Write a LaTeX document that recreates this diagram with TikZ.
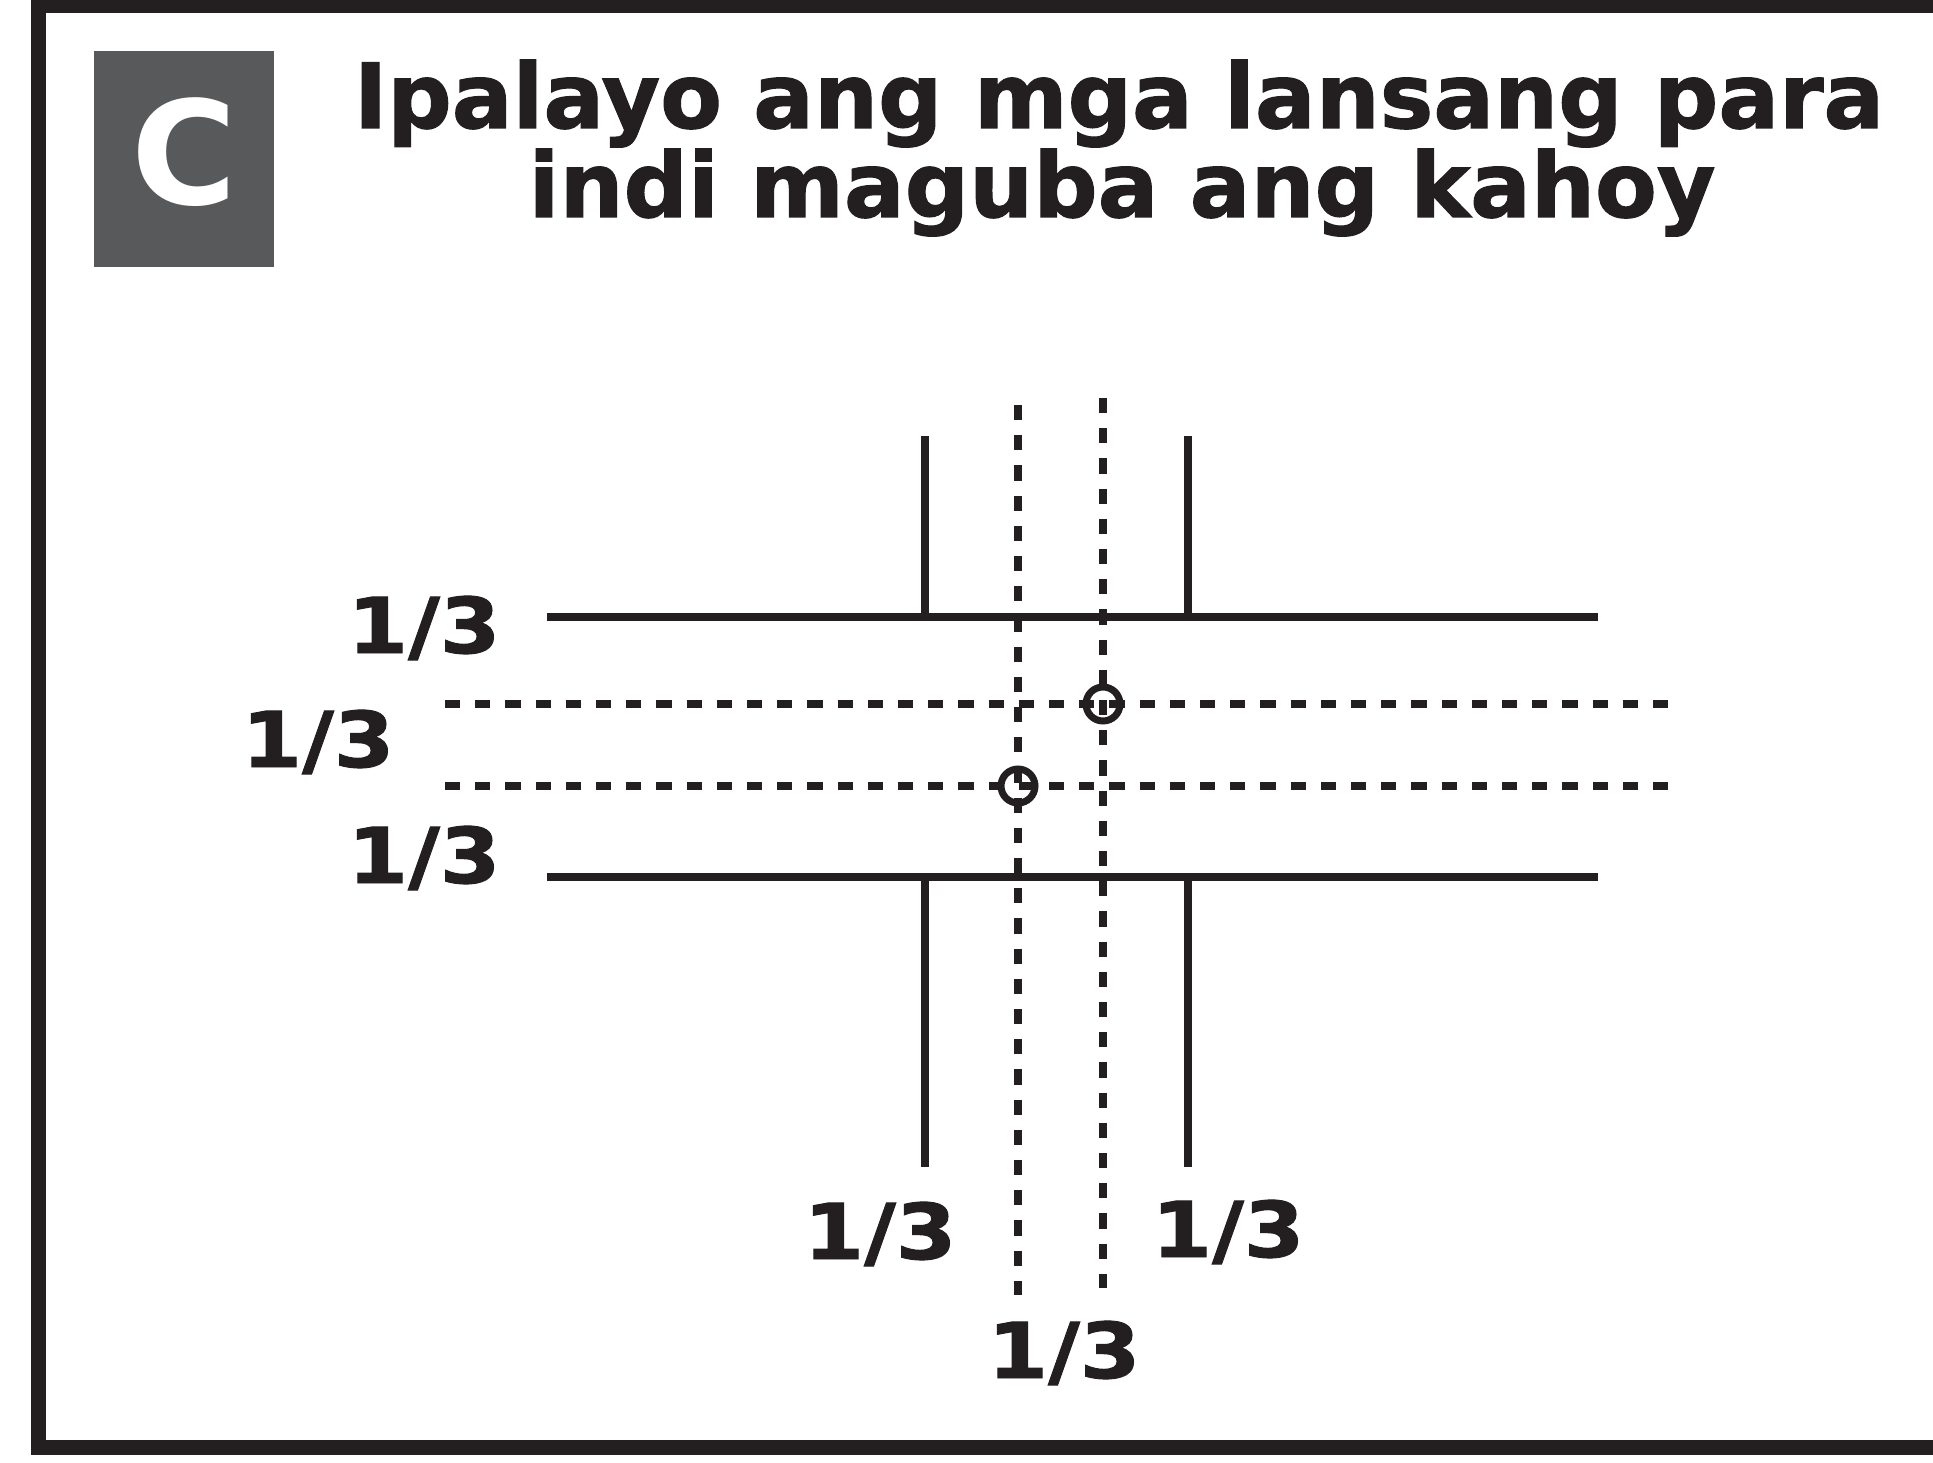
\documentclass[tikz,border=0pt]{standalone}
\usepackage{fontspec}
\setmainfont{DejaVu Sans}
\newfontfamily\heavyfont[FakeBold=1.2]{DejaVu Sans Bold}
\usepackage{graphicx}
\definecolor{ink}{HTML}{231F20}
\definecolor{boxgray}{HTML}{58595B}
\tikzset{
  solidline/.style={line width=8pt, draw=ink},
  dashline/.style={line width=8pt, draw=ink, dash pattern=on 15.2pt off 15pt},
  fraclabel/.style={font=\fontsize{77}{77}\selectfont\heavyfont, text=ink, anchor=base, inner sep=0pt},
  titleline/.style={font=\fontsize{90}{90}\selectfont\heavyfont, text=ink, anchor=base, inner sep=0pt},
  nailmark/.style={circle, draw=ink, line width=7pt, minimum size=34pt, inner sep=0pt},
}
\newcommand{\third}{\scalebox{1.13}[1]{1/3}}
\begin{document}
\begin{tikzpicture}[x=1pt,y=-1pt]
\useasboundingbox (0,0) rectangle (1933,1463);
% frame
\draw[line width=15pt, draw=ink] (1933,5.5) -- (38.5,5.5) -- (38.5,1447.5) -- (1933,1447.5);
% badge
\node[fill=boxgray, minimum width=180pt, minimum height=216pt, inner sep=0pt] (badge) at (184,159) {};
\node[font=\fontsize{144}{144}\selectfont\bfseries, text=white, anchor=base, inner sep=0pt] (badgeC) at (184,205) {C};
% title
\node[titleline] (title1) at (1119,128) {Ipalayo ang mga lansang para};
\node[titleline] (title2) at (1122,217) {indi maguba ang kahoy};
% coordinates
\coordinate (h1L) at (547,617);  \coordinate (h1R) at (1598,617);
\coordinate (h2L) at (547,877);  \coordinate (h2R) at (1598,877);
\coordinate (t1T) at (925,436);  \coordinate (t1B) at (925,617);
\coordinate (t2T) at (1188,436); \coordinate (t2B) at (1188,617);
\coordinate (b1T) at (925,877);  \coordinate (b1B) at (925,1167);
\coordinate (b2T) at (1188,877); \coordinate (b2B) at (1188,1167);
\coordinate (d1L) at (445,704);  \coordinate (d1R) at (1668,704);
\coordinate (d2L) at (445,786);  \coordinate (d2R) at (1668,786);
\coordinate (v1T) at (1018,405); \coordinate (v1B) at (1018,1295);
\coordinate (v2T) at (1103,398); \coordinate (v2B) at (1103,1288);
% solid board edges
\draw[solidline] (h1L) -- (h1R);
\draw[solidline] (h2L) -- (h2R);
\draw[solidline] (t1T) -- (t1B);
\draw[solidline] (t2T) -- (t2B);
\draw[solidline] (b1T) -- (b1B);
\draw[solidline] (b2T) -- (b2B);
% dashed thirds
\draw[dashline] (d1L) -- (d1R);
\draw[dashline] (d2L) -- (d2R);
\draw[dashline] (v1T) -- (v1B);
\draw[dashline] (v2T) -- (v2B);
% nail marks
\node[nailmark] (nail1) at (1103,704) {};
\node[nailmark] (nail2) at (1018,786) {};
% labels
\node[fraclabel] (lab1) at (424,653) {\third};
\node[fraclabel] (lab2) at (318,767) {\third};
\node[fraclabel] (lab3) at (424,883) {\third};
\node[fraclabel] (lab4) at (880,1259) {\third};
\node[fraclabel] (lab5) at (1228,1257) {\third};
\node[fraclabel] (lab6) at (1064,1378) {\third};
\end{tikzpicture}
\end{document}
